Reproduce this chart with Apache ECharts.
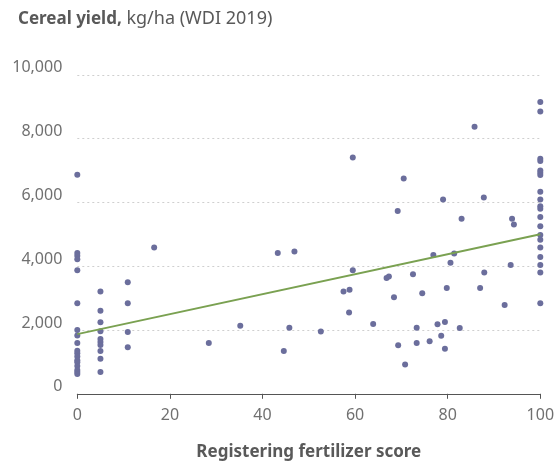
<!DOCTYPE html>
<html>
<head>
<meta charset="utf-8">
<script src="https://cdn.jsdelivr.net/npm/echarts@6/dist/echarts.min.js"></script>
<style>
html,body{margin:0;padding:0;background:#fff;}
#chart{width:559px;height:463px;}
</style>
</head>
<body>
<div id="chart"></div>
<script>
// Registering fertilizer score (x) and cereal yield kg/ha (y)
var scores = [
  0,0,0,0,0,0,0,0,0,0,0,0,0,0,0,0,0,0,
  5,5,5,5,5,5,5,5,5,5,
  10.9,10.9,10.9,10.9,
  16.6,28.4,35.2,43.3,44.6,45.8,46.9,52.6,57.5,58.7,58.8,59.5,59.5,63.9,66.8,67.3,68.4,69.2,69.3,70.5,70.8,72.5,73.3,73.3,74.5,76.1,76.9,77.8,78.6,79.0,79.4,79.4,79.8,80.6,81.4,82.6,83.0,85.8,87.0,87.8,87.9,92.3,93.6,93.9,94.3,
  100,100,100,100,100,100,100,100,100,100,100,100,100,100,100,100,100,100,100,100
];
var yields = [
  6870,4410,4330,4220,3870,2840,2000,1830,1590,1350,1270,1170,1050,990,870,750,680,620,
  3210,2600,2240,1960,1720,1620,1530,1340,1100,685,
  3500,2840,1940,1460,
  4590,1590,2130,4410,1340,2070,4460,1950,3210,2550,3260,3870,7410,2190,3630,3680,3030,5730,1520,6750,920,3750,2070,1590,3150,1650,4350,2180,1820,6090,2250,1410,3320,4110,4400,2060,5490,8370,3320,6150,3800,2780,4040,5490,5310,
  9150,8850,7370,7300,7000,6930,6860,6330,6090,5880,5800,5540,5250,4980,4830,4590,4290,4040,3800,2840
];
// Trend line endpoints
var trendX = [0, 100];
var trendY = [1870, 5000];

var pts = scores.map(function (s, i) { return [s, yields[i]]; });
var trend = trendX.map(function (s, i) { return [s, trendY[i]]; });

var chart = echarts.init(document.getElementById('chart'), null, {renderer: 'canvas'});
chart.setOption({
  animation: false,
  backgroundColor: '#ffffff',
  textStyle: {fontFamily: 'Noto Sans'},
  title: {
    left: 13, top: 5,
    text: '{b|Cereal yield,} kg/ha (WDI 2019)',
    textStyle: {
      fontFamily: 'Noto Sans', fontSize: 18, fontWeight: 'normal', color: '#595959',
      rich: {b: {fontFamily: 'Noto Sans', fontSize: 17, fontWeight: 'bold', color: '#595959'}}
    }
  },
  grid: {left: 77.3, right: 18.7, top: 74.8, bottom: 69.2, containLabel: false, outerBoundsMode: 'none'},
  xAxis: {
    type: 'value', min: 0, max: 100, interval: 20,
    name: 'Registering fertilizer score',
    nameLocation: 'middle', nameGap: 50,
    nameTextStyle: {fontFamily: 'Noto Sans', fontSize: 17, fontWeight: 'bold', color: '#595959'},
    axisLine: {show: true, lineStyle: {color: '#555', width: 1}},
    axisTick: {show: true, length: 5, lineStyle: {color: '#555'}},
    axisLabel: {fontFamily: 'Noto Sans', fontSize: 16, color: '#707070', margin: 14},
    splitLine: {show: false}
  },
  yAxis: {
    type: 'value', min: 0, max: 10000, interval: 2000,
    axisLine: {show: false}, axisTick: {show: false},
    axisLabel: {
      fontFamily: 'Noto Sans', fontSize: 16, color: '#707070', margin: 15,
      verticalAlign: 'bottom', lineHeight: 14,
      formatter: function (v) { return v.toLocaleString('en-US'); }
    },
    splitLine: {show: true, lineStyle: {color: '#cfcfcf', type: [2, 3], width: 1}}
  },
  series: [
    {
      type: 'scatter', data: pts, symbolSize: 6,
      itemStyle: {color: '#6b6e9c', opacity: 1}
    },
    {
      type: 'line', data: trend, symbol: 'none', z: 3,
      lineStyle: {color: '#7aa151', width: 2}
    }
  ]
});
</script>
</body>
</html>
